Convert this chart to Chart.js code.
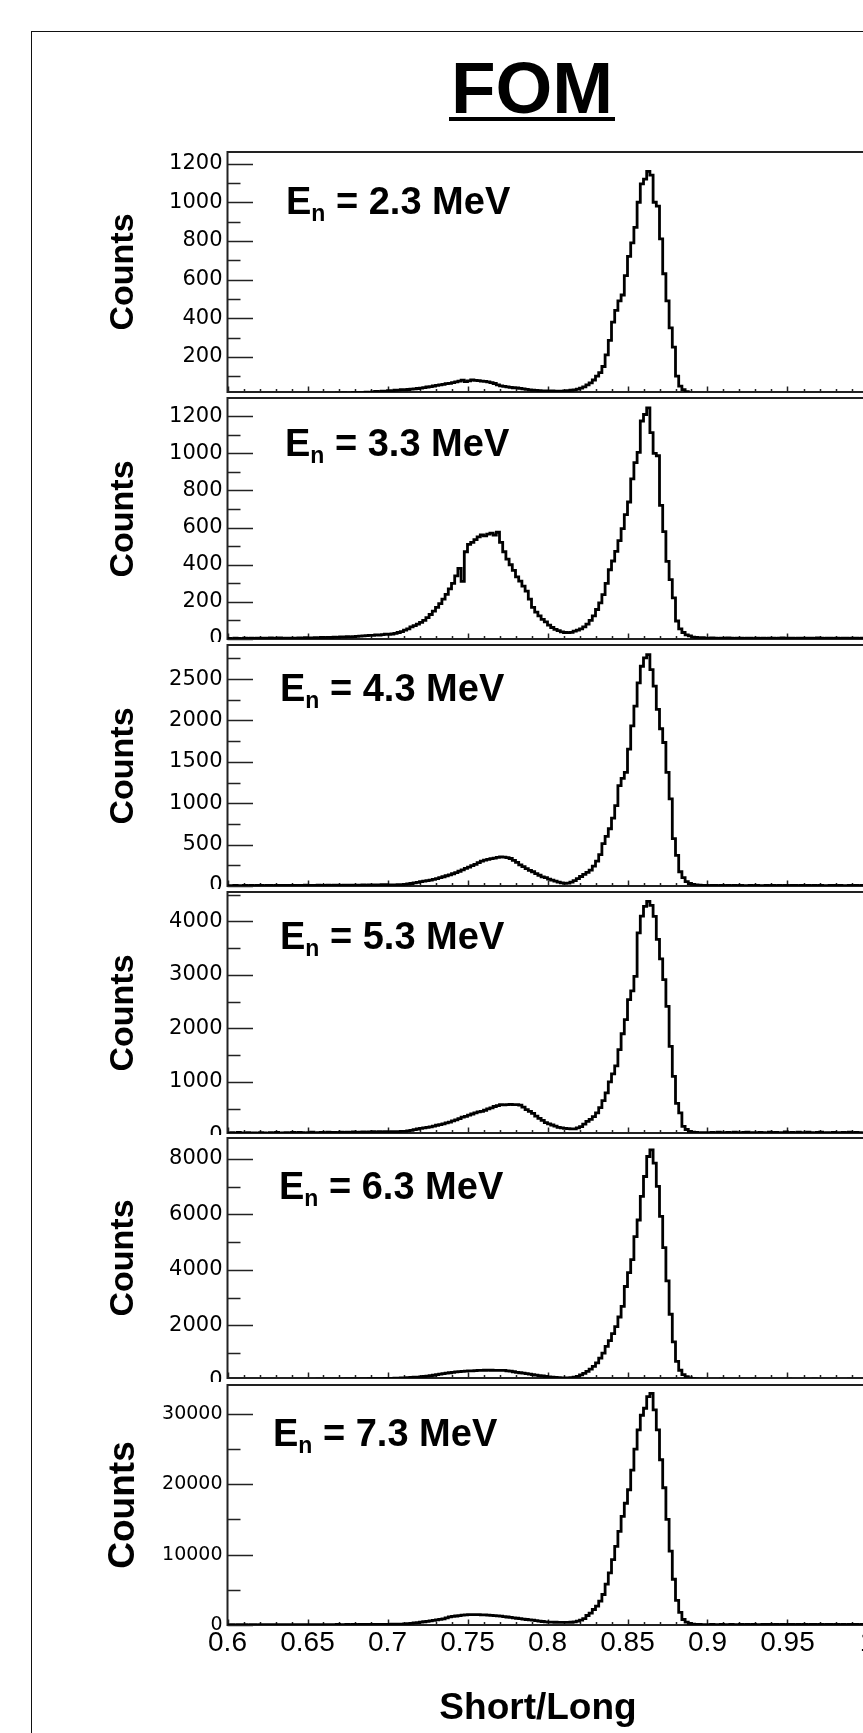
<!DOCTYPE html>
<html>
<head>
<meta charset="utf-8">
<script src="https://cdn.jsdelivr.net/npm/chart.js@4.4.1/dist/chart.umd.min.js"></script>
<style>
html, body { margin: 0; padding: 0; background: #fff; overflow: hidden; width: 863px; height: 1733px; }
#stage { position: relative; width: 863px; height: 1733px; overflow: hidden; background: #fff; }
#stage canvas { position: absolute; left: 0; }
.txt { position: absolute; white-space: nowrap; line-height: 0; font-family: "Liberation Sans", Arial, Helvetica, sans-serif; font-weight: bold; color: #000; z-index: 5; }
.rot { position: absolute; white-space: nowrap; line-height: 1; font-family: "Liberation Sans", Arial, Helvetica, sans-serif; font-weight: bold; color: #000; z-index: 5; transform: translate(-50%, -50%) rotate(-90deg); }
#outer { position: absolute; left: 31px; top: 31px; width: 1000px; height: 2000px; border-left: 1.5px solid #111; border-top: 1.5px solid #111; }
#uline { position: absolute; left: 449px; top: 117px; width: 166px; height: 4px; background: #000; }
</style>
</head>
<body>
<div id="stage"><div id="outer"></div><div id="uline"></div></div>
<script>
// ---------------- data ----------------
// histogram bins: 200 bins of width 0.002 between 0.6 and 1.0 (one row = 10 bins = 0.02)
const BIN_START = 0.6;
const BIN_WIDTH = 0.002;

const ENERGY_LABELS = ['2.3', '3.3', '4.3', '5.3', '6.3', '7.3'];

const COUNTS_2_3 = [
  3, 4, 2, 5, 3, 6, 2, 4, 5, 3,
  4, 6, 3, 5, 2, 4, 6, 3, 5, 7,
  5, 8, 6, 4, 7, 9, 6, 8, 10, 7,
  9, 11, 8, 10, 12, 9, 13, 11, 12, 14,
  13, 15, 14, 17, 16, 19, 21, 20, 23, 22,
  25, 24, 27, 28, 30, 29, 31, 33, 34, 36,
  38, 41, 44, 46, 49, 52, 55, 57, 61, 63,
  66, 70, 74, 79, 72, 76, 81, 78, 77, 74,
  73, 70, 66, 62, 55, 50, 47, 45, 42, 40,
  39, 37, 34, 32, 29, 27, 26, 25, 24, 24,
  23, 24, 22, 23, 22, 24, 25, 27, 29, 33,
  38, 45, 55, 65, 80, 100, 118, 150, 210, 285,
  380, 440, 490, 520, 620, 720, 790, 870, 1000, 1095,
  1120, 1160, 1140, 1000, 980, 810, 630, 490, 350, 250,
  100, 48, 30, 20, 12, 8, 6, 5, 4, 6,
  3, 5, 4, 2, 6, 3, 4, 5, 3, 4,
  2, 4, 3, 5, 3, 2, 4, 3, 2, 3,
  4, 2, 5, 3, 4, 6, 3, 2, 4, 5,
  3, 4, 2, 5, 3, 4, 3, 5, 2, 4,
  3, 2, 4, 3, 5, 2, 3, 4, 3, 2
];
const COUNTS_3_3 = [
  3, 2, 4, 3, 2, 4, 3, 5, 3, 4,
  4, 5, 3, 6, 5, 4, 6, 3, 5, 4,
  5, 4, 6, 5, 7, 6, 5, 7, 6, 8,
  7, 9, 8, 10, 9, 11, 10, 12, 11, 13,
  14, 16, 17, 18, 20, 19, 22, 21, 24, 26,
  25, 27, 30, 35, 40, 48, 55, 65, 72, 80,
  90, 100, 115, 132, 150, 170, 190, 215, 240, 270,
  300, 340, 380, 310, 470, 510, 520, 535, 550, 560,
  555, 565, 570, 560, 575, 520, 470, 430, 400, 370,
  335, 312, 285, 258, 215, 170, 145, 125, 106, 92,
  75, 62, 52, 45, 38, 35, 34, 36, 42, 48,
  55, 65, 80, 100, 125, 159, 195, 239, 300, 373,
  420, 472, 530, 595, 670, 738, 862, 950, 1005, 1174,
  1209, 1245, 1112, 1000, 987, 720, 578, 418, 320, 222,
  97, 55, 35, 22, 17, 10, 8, 6, 7, 5,
  4, 6, 5, 3, 5, 4, 6, 4, 3, 5,
  4, 3, 5, 4, 2, 4, 3, 5, 3, 4,
  5, 3, 4, 6, 3, 5, 4, 3, 5, 4,
  3, 5, 4, 3, 6, 4, 3, 5, 4, 3,
  4, 3, 5, 4, 3, 4, 5, 3, 4, 3
];
const COUNTS_4_3 = [
  5, 4, 6, 5, 4, 6, 5, 7, 5, 6,
  6, 5, 7, 6, 5, 7, 6, 8, 7, 6,
  7, 6, 8, 7, 9, 6, 8, 7, 9, 8,
  8, 9, 7, 10, 9, 8, 10, 11, 9, 10,
  10, 11, 12, 11, 13, 12, 14, 13, 15, 16,
  12, 13, 14, 15, 17, 19, 24, 30, 38, 45,
  52, 58, 65, 71, 80, 90, 100, 112, 124, 135,
  148, 162, 178, 195, 212, 228, 245, 262, 282, 300,
  312, 322, 330, 336, 345, 352, 350, 342, 332, 310,
  285, 255, 235, 210, 190, 172, 150, 130, 110, 100,
  82, 70, 58, 48, 38, 31, 35, 48, 65, 90,
  115, 140, 165, 191, 240, 300, 380, 512, 600, 692,
  820, 972, 1213, 1300, 1373, 1654, 1934, 2174, 2455, 2655,
  2756, 2796, 2615, 2415, 2133, 1900, 1734, 1373, 1053, 572,
  371, 172, 100, 52, 30, 19, 12, 9, 7, 8,
  5, 7, 6, 4, 6, 5, 7, 5, 6, 4,
  6, 5, 4, 6, 5, 7, 4, 5, 6, 5,
  7, 5, 6, 4, 8, 5, 6, 7, 5, 6,
  4, 6, 5, 7, 5, 6, 4, 5, 7, 6,
  5, 6, 4, 5, 6, 5, 7, 4, 6, 5
];
const COUNTS_5_3 = [
  42, 50, 38, 55, 46, 40, 52, 44, 48, 41,
  53, 47, 39, 50, 45, 56, 43, 49, 52, 46,
  55, 48, 58, 52, 44, 50, 62, 47, 53, 57,
  49, 60, 54, 58, 51, 63, 56, 60, 55, 65,
  58, 62, 66, 60, 64, 68, 63, 70, 66, 72,
  65, 68, 70, 72, 74, 77, 85, 95, 108, 120,
  130, 140, 150, 159, 175, 190, 200, 215, 234, 250,
  270, 290, 315, 340, 357, 380, 400, 420, 440, 450,
  470, 495, 515, 540, 557, 576, 570, 575, 580, 576,
  576, 565, 530, 482, 450, 410, 360, 320, 280, 240,
  215, 195, 175, 150, 140, 132, 128, 121, 123, 140,
  165, 210, 264, 300, 350, 420, 520, 650, 794, 1000,
  1150, 1300, 1604, 1900, 2165, 2538, 2700, 2974, 3785, 4100,
  4282, 4376, 4300, 4095, 3665, 3300, 2912, 2413, 1665, 1105,
  600, 420, 170, 110, 77, 60, 55, 48, 52, 50,
  44, 58, 47, 62, 50, 45, 56, 49, 60, 53,
  47, 55, 63, 48, 52, 44, 58, 51, 46, 61,
  50, 57, 45, 53, 66, 49, 54, 47, 59, 52,
  48, 62, 51, 46, 55, 60, 49, 53, 45, 57,
  52, 47, 58, 50, 63, 48, 55, 51, 46, 54
];
const COUNTS_6_3 = [
  20, 35, 25, 30, 40, 22, 28, 35, 30, 25,
  32, 28, 40, 35, 30, 38, 42, 36, 45, 40,
  38, 45, 42, 50, 44, 48, 52, 46, 55, 50,
  53, 58, 50, 60, 56, 62, 58, 65, 60, 68,
  64, 70, 66, 72, 75, 70, 78, 74, 80, 85,
  82, 88, 92, 96, 100, 105, 112, 120, 128, 135,
  142, 155, 168, 182, 200, 223, 240, 258, 275, 290,
  306, 318, 328, 338, 346, 354, 360, 366, 372, 378,
  380, 382, 380, 378, 378, 376, 372, 360, 345, 325,
  306, 290, 275, 258, 240, 223, 205, 188, 172, 155,
  142, 130, 120, 112, 106, 104, 105, 112, 130, 160,
  210, 270, 342, 420, 520, 645, 820, 1000, 1243, 1450,
  1700, 1950, 2300, 2685, 3400, 3900, 4368, 5200, 5800, 6649,
  7369, 8090, 8331, 7852, 7009, 5928, 4800, 3600, 2400, 1400,
  700, 380, 223, 150, 104, 80, 65, 55, 50, 48,
  35, 52, 40, 45, 58, 37, 44, 50, 41, 47,
  39, 53, 46, 42, 55, 38, 49, 44, 51, 40,
  45, 36, 54, 48, 42, 57, 39, 46, 52, 43,
  50, 41, 47, 56, 38, 45, 53, 40, 48, 44,
  37, 51, 43, 49, 55, 42, 46, 39, 52, 45
];
const COUNTS_7_3 = [
  30, 45, 25, 40, 35, 50, 30, 42, 38, 28,
  45, 35, 40, 50, 32, 44, 38, 46, 40, 52,
  48, 40, 55, 60, 50, 45, 58, 52, 62, 55,
  60, 52, 65, 58, 70, 62, 55, 68, 60, 72,
  65, 75, 70, 80, 72, 85, 78, 90, 82, 95,
  100, 110, 105, 120, 130, 150, 180, 230, 290, 340,
  400, 460, 520, 580, 650, 720, 800, 880, 1000, 1150,
  1220, 1280, 1340, 1400, 1440, 1460, 1470, 1460, 1470, 1450,
  1430, 1400, 1370, 1330, 1290, 1250, 1200, 1140, 1080, 1020,
  960, 900, 840, 780, 720, 680, 620, 560, 500, 450,
  420, 400, 390, 380, 370, 360, 370, 390, 450, 560,
  700, 900, 1350, 1700, 2200, 2670, 3400, 4330, 5800, 7400,
  9300, 11180, 13300, 15430, 17300, 19220, 22000, 25000, 27730, 29800,
  30800, 32450, 32900, 30570, 27730, 23480, 19500, 15000, 10500, 6500,
  3500, 1800, 780, 400, 210, 120, 90, 70, 60, 55,
  60, 75, 48, 55, 80, 62, 50, 70, 58, 66,
  72, 55, 68, 60, 85, 58, 64, 90, 70, 75,
  65, 80, 58, 72, 62, 88, 70, 60, 78, 66,
  74, 60, 82, 68, 56, 76, 64, 92, 70, 62,
  80, 66, 72, 58, 86, 68, 75, 62, 84, 70
];
const SERIES = [COUNTS_2_3, COUNTS_3_3, COUNTS_4_3, COUNTS_5_3, COUNTS_6_3, COUNTS_7_3];

const Y_MIN = [18, 0, 0, 45, 100, 0];
const Y_MAX = [1260, 1298, 2912, 4550, 8757, 34100];
const Y_TICKS = [
  [200, 400, 600, 800, 1000, 1200],
  [0, 200, 400, 600, 800, 1000, 1200],
  [0, 500, 1000, 1500, 2000, 2500],
  [0, 1000, 2000, 3000, 4000],
  [0, 2000, 4000, 6000, 8000],
  [0, 10000, 20000, 30000]
];
const Y_MAJOR = [200, 200, 500, 1000, 2000, 10000];
const Y_MINOR = [100, 100, 250, 500, 1000, 5000];

const X_MIN = 0.6, X_MAX = 1.0;
const X_TICKS = [0.6, 0.65, 0.7, 0.75, 0.8, 0.85, 0.9, 0.95, 1.0];
const X_TICK_LABELS = ['0.6', '0.65', '0.7', '0.75', '0.8', '0.85', '0.9', '0.95', '1'];
const X_MINOR_STEP = 0.01;

// ---------------- layout ----------------
const CANVAS_W = 900;
const PLOT_LEFT = 227.5, PLOT_RIGHT = 867.5;
const FRAME_TOP = [152, 398, 645, 892, 1138, 1385];
const FRAME_BOT = [392, 639, 886, 1133, 1378, 1625];
const PAGE_H = 1733;
const LABEL_X = [286, 285, 280, 280, 279, 273];
const LABEL_DY = [62, 58, 56, 57, 61, 61];

const stage = document.getElementById('stage');

function addText(html, size, x, baseline, center) {
  const d = document.createElement('div');
  d.className = 'txt';
  d.style.fontSize = size + 'px';
  d.innerHTML = html;
  d.style.top = (baseline - 0.3465 * size) + 'px';
  d.style.left = x + 'px';
  if (center) d.style.transform = 'translateX(-50%)';
  stage.appendChild(d);
  return d;
}
function addRot(text, size, x, y) {
  const d = document.createElement('div');
  d.className = 'rot';
  d.style.fontSize = size + 'px';
  d.textContent = text;
  d.style.left = x + 'px';
  d.style.top = y + 'px';
  stage.appendChild(d);
}

addText('FOM', 73, 532, 113, true);
addText('Short/Long', 37, 538, 1720, true);

const decor = {
  id: 'decor',
  beforeDatasetsDraw(chart, args, opts) {
    const k = opts.k;
    const { ctx, chartArea: a } = chart;
    const x = chart.scales.x, y = chart.scales.y;
    ctx.save();
    ctx.strokeStyle = '#222';
    ctx.lineWidth = 1.5;
    ctx.beginPath();
    const n = Math.round((Y_MAX[k]) / Y_MINOR[k]);
    for (let j = 0; j <= n; j++) {
      const v = j * Y_MINOR[k];
      if (v < Y_MIN[k] || v > Y_MAX[k]) continue;
      const py = Math.round(y.getPixelForValue(v)) + 0.5;
      const major = (j * Y_MINOR[k]) % Y_MAJOR[k] === 0;
      ctx.moveTo(a.left, py);
      ctx.lineTo(a.left + (major ? 25.5 : 13), py);
    }
    const nx = Math.round((X_MAX - X_MIN) / X_MINOR_STEP);
    for (let j = 0; j <= nx; j++) {
      const px = Math.round(x.getPixelForValue(X_MIN + j * X_MINOR_STEP)) + 0.5;
      ctx.moveTo(px, a.bottom);
      ctx.lineTo(px, a.bottom - (j % 5 === 0 ? 5.5 : 3));
    }
    ctx.stroke();
    ctx.lineWidth = 2;
    ctx.strokeStyle = '#222';
    ctx.strokeRect(a.left, a.top, a.right - a.left, a.bottom - a.top);
    ctx.restore();
  }
};

for (let k = 0; k < 6; k++) {
  const last = (k === 5);
  const cTop = FRAME_TOP[k] - 3;
  const cBot = last ? PAGE_H : FRAME_TOP[k + 1] - 3;
  const cH = cBot - cTop;
  const cv = document.createElement('canvas');
  cv.width = CANVAS_W; cv.height = cH;
  cv.style.width = CANVAS_W + 'px'; cv.style.height = cH + 'px';
  cv.style.top = cTop + 'px';
  stage.appendChild(cv);

  const d = SERIES[k];
  const pts = [{ x: X_MIN, y: d[0] }];
  for (let i = 0; i < d.length; i++) pts.push({ x: BIN_START + BIN_WIDTH * (i + 0.5), y: d[i] });
  pts.push({ x: X_MAX, y: d[d.length - 1] });

  const yFont = { family: '"DejaVu Sans", "Liberation Sans", sans-serif', size: last ? 19 : 21 };

  new Chart(cv, {
    type: 'line',
    data: { datasets: [{
      data: pts, stepped: 'middle', borderColor: '#000', borderWidth: 2.8,
      pointRadius: 0, fill: false, tension: 0, borderJoinStyle: 'miter'
    }] },
    options: {
      animation: false, responsive: false, maintainAspectRatio: false, devicePixelRatio: 1,
      events: [],
      layout: { autoPadding: false, padding: {
        left: 0, right: CANVAS_W - PLOT_RIGHT, top: FRAME_TOP[k] - cTop,
        bottom: last ? 0 : cBot - FRAME_BOT[k] } },
      plugins: { legend: { display: false }, tooltip: { enabled: false }, decor: { k } },
      scales: {
        x: {
          type: 'linear', min: X_MIN, max: X_MAX, display: last,
          grid: { display: false, drawTicks: false }, border: { display: false },
          ticks: {
            autoSkip: false, maxRotation: 0, minRotation: 0, padding: 1, color: '#000',
            font: { family: '"Liberation Sans", Arial, sans-serif', size: 28 },
            callback: (v, i) => X_TICK_LABELS[i]
          },
          afterBuildTicks: (s) => { s.ticks = X_TICKS.map(v => ({ value: v })); },
          afterFit: (s) => {
            s.height = last ? (PAGE_H - FRAME_BOT[5]) : 0;
            s.paddingLeft = 0; s.paddingRight = 0;
          }
        },
        y: {
          type: 'linear', min: Y_MIN[k], max: Y_MAX[k],
          grid: { display: false, drawTicks: false }, border: { display: false },
          ticks: {
            autoSkip: false, padding: 5, color: '#000', font: yFont,
            callback: (v, i) => String(Y_TICKS[k][i])
          },
          afterBuildTicks: (s) => { s.ticks = Y_TICKS[k].map(v => ({ value: v })); },
          afterFit: (s) => { s.width = PLOT_LEFT; s.paddingTop = 0; s.paddingBottom = 0; }
        }
      }
    },
    plugins: [decor]
  });

  addRot('Counts', last ? 37 : 34, 121, (FRAME_TOP[k] + FRAME_BOT[k]) / 2);
  addText('E<span style="font-size:23px;position:relative;top:7px">n</span> = ' + ENERGY_LABELS[k] + ' MeV',
          38, LABEL_X[k], FRAME_TOP[k] + LABEL_DY[k], false);
}
</script>
</body>
</html>
